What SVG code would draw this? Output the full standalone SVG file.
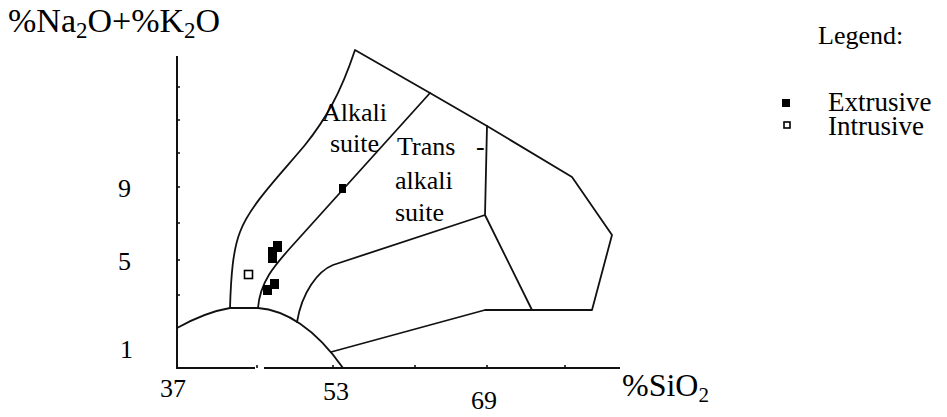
<svg xmlns="http://www.w3.org/2000/svg" width="947" height="417" viewBox="0 0 947 417">
<style>
text{font-family:"Liberation Serif","Times New Roman",serif;fill:#000}
.ln{fill:none;stroke:#111;stroke-width:1.8;stroke-linejoin:round;stroke-linecap:round}
.ax{fill:none;stroke:#111;stroke-width:2}
.tk{stroke:#111;stroke-width:1.6}
.lbl{font-size:26px}
.leg{font-size:27px}
.num{font-size:26px}
.ext{fill:#000}
.int{fill:#fff;stroke:#000;stroke-width:1.6}
</style>
<rect width="947" height="417" fill="#fff"/>
<g id="axis-y-title"><text x="8" y="32" font-size="34">%Na<tspan font-size="23" dy="6">2</tspan><tspan dy="-6">O+%K</tspan><tspan font-size="23" dy="6">2</tspan><tspan dy="-6">O</tspan></text></g>
<g id="axes">
<path class="ax" d="M177,56 V368 H255 M264,368 H620"/>
<path class="tk" d="M177,87 h3 M177,120 h3 M177,153 h3 M177,187 h3 M177,223 h3 M177,260 h3 M177,295 h3 M257,368 v-3 M333,368 v-3 M415,368 v-3 M487,368 v-3 M565,368 v-3"/>
<text class="num" x="118" y="197">9</text>
<text class="num" x="118" y="270">5</text>
<text class="num" x="120" y="358">1</text>
<text class="num" x="160" y="397">37</text>
<text class="num" x="323" y="400">53</text>
<text class="num" x="471" y="409">69</text>
<text x="622" y="396" font-size="32">%SiO<tspan font-size="21" dy="6">2</tspan></text>
</g>
<g id="connectors">
<path class="ln" d="M177,328 C195,318 212,311 230,308 L258,308 C285,310 315,328 343,368"/>
<path class="ln" d="M230,308 C231,275 233,250 240,232 C250,205 280,175 305,145 C325,120 340,95 355,50 L430,93 L487,126 L572,177 L612,235 L592,310 L485,310 L331,352"/>
<path class="ln" d="M487,126 L485,215 L532,310 M485,215 L333,265 C318,271 302,292 297,322"/>
<path class="ln" d="M430,93 L292,246 C274,266 260,282 258,308"/>
</g>
<g id="field-alkali"><text class="lbl" x="322" y="121">Alkali</text><text class="lbl" x="330" y="152">suite</text></g>
<g id="field-transalkali"><text class="lbl" x="397" y="155">Trans</text><text class="lbl" x="476" y="155">-</text><text class="lbl" x="395" y="189">alkali</text><text class="lbl" x="395" y="221">suite</text></g>
<g id="data-extrusive">
<rect class="ext" x="339" y="184" width="7" height="9"/>
<rect class="ext" x="273" y="241" width="9" height="11"/>
<rect class="ext" x="268" y="247" width="9" height="16"/>
<rect class="ext" x="270" y="279" width="9" height="10"/>
<rect class="ext" x="263" y="285" width="9" height="10"/>
</g>
<g id="data-intrusive"><rect class="int" x="244.5" y="270.5" width="8" height="8"/></g>
<g id="legend">
<text class="lbl" x="818" y="44">Legend:</text>
<rect class="ext" x="782" y="99" width="8" height="8"/>
<text class="leg" x="828" y="111">Extrusive</text>
<rect class="int" x="784" y="122" width="6" height="6"/>
<text class="leg" x="828" y="135">Intrusive</text>
</g>
</svg>
